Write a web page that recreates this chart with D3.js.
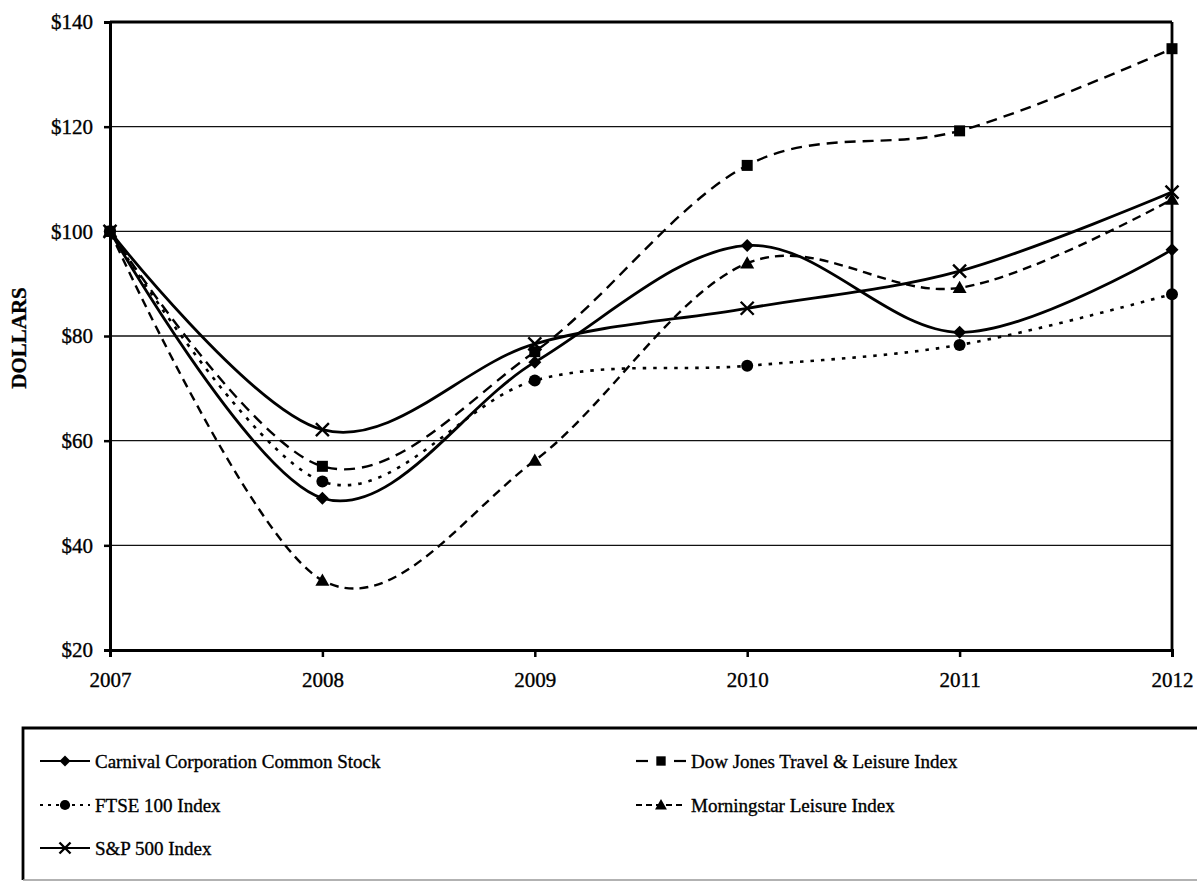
<!DOCTYPE html>
<html>
<head>
<meta charset="utf-8">
<script src="https://cdn.jsdelivr.net/npm/d3@7"></script>
<style>
  html, body { margin: 0; padding: 0; background: #fff; }
  svg { display: block; }
  text { font-family: "Liberation Serif", "Times New Roman", serif; fill: #000; stroke: #000; stroke-width: 0.35px; }
</style>
</head>
<body>
<svg id="chart" width="1197" height="881"></svg>
<script>
const years = [2007, 2008, 2009, 2010, 2011, 2012];
const yTicks = [20, 40, 60, 80, 100, 120, 140];
const carnival   = [100, 49.0, 75.0, 97.3, 80.7, 96.5];
const dowJones   = [100, 55.1, 77.0, 112.6, 119.2, 134.9];
const ftse       = [100, 52.2, 71.5, 74.3, 78.3, 88.0];
const morningstar= [100, 33.3, 56.2, 93.9, 89.2, 106.1];
const sp500      = [100, 62.1, 78.5, 85.3, 92.4, 107.5];
const seriesNames = [
  "Carnival Corporation Common Stock",
  "Dow Jones Travel & Leisure Index",
  "FTSE 100 Index",
  "Morningstar Leisure Index",
  "S&P 500 Index"
];

const series = [
  { name: seriesNames[0], values: carnival,    dash: null,    width: 2.8, marker: "diamond" },
  { name: seriesNames[1], values: dowJones,    dash: "11,7",  width: 2.4, marker: "square" },
  { name: seriesNames[2], values: ftse,        dash: "3.5,7", width: 2.6, marker: "circle" },
  { name: seriesNames[3], values: morningstar, dash: "9,6",   width: 2.4, marker: "triangle" },
  { name: seriesNames[4], values: sp500,       dash: null,    width: 2.8, marker: "cross" }
];

const svg = d3.select("#chart");
const plotLeft = 110, plotRight = 1172, plotTop = 22, plotBottom = 650;

const x = d3.scaleLinear().domain([2007, 2012]).range([plotLeft, plotRight]);
const y = d3.scaleLinear().domain([20, 140]).range([plotBottom, plotTop]);

// gridlines
svg.append("g")
  .selectAll("line")
  .data(yTicks.filter(t => t > 20 && t < 140))
  .join("line")
  .attr("x1", plotLeft).attr("x2", plotRight)
  .attr("y1", d => y(d)).attr("y2", d => y(d))
  .attr("stroke", "#111").attr("stroke-width", 1.4);

// top & right border
svg.append("line").attr("x1", plotLeft).attr("x2", plotRight).attr("y1", y(140)).attr("y2", y(140))
  .attr("stroke", "#000").attr("stroke-width", 2.8);
svg.append("line").attr("x1", plotRight).attr("x2", plotRight).attr("y1", y(140)).attr("y2", y(20))
  .attr("stroke", "#000").attr("stroke-width", 2.8);

// y axis
const yAxis = d3.axisLeft(y).tickValues(yTicks).tickSize(6).tickPadding(11).tickFormat(d => "$" + d);
const gy = svg.append("g").attr("transform", `translate(${plotLeft},0)`).call(yAxis);
gy.select(".domain").attr("stroke", "#000").attr("stroke-width", 3);
gy.selectAll(".tick line").attr("stroke", "#000").attr("stroke-width", 2.5);
gy.selectAll(".tick text").attr("font-size", 21).attr("font-family", "Liberation Serif").attr("fill", "#000");

// x axis
const xAxis = d3.axisBottom(x).tickValues(years).tickSize(7).tickPadding(15).tickFormat(d3.format("d"));
const gx = svg.append("g").attr("transform", `translate(0,${plotBottom})`).call(xAxis);
gx.select(".domain").attr("stroke", "#000").attr("stroke-width", 3);
gx.selectAll(".tick line").attr("stroke", "#000").attr("stroke-width", 2.5);
gx.selectAll(".tick text").attr("font-size", 21).attr("font-family", "Liberation Serif").attr("fill", "#000");

// y label
svg.append("text")
  .attr("transform", `translate(26,338) rotate(-90)`)
  .attr("text-anchor", "middle")
  .attr("font-size", 21).attr("font-weight", "bold")
  .text("DOLLARS");

// markers
function drawMarker(g, type, cx, cy, s) {
  s = s || 1;
  if (type === "diamond") {
    const r = 6.5 * s;
    g.append("path").attr("d", `M${cx},${cy - r}L${cx + r},${cy}L${cx},${cy + r}L${cx - r},${cy}Z`).attr("fill", "#000");
  } else if (type === "square") {
    const r = 5.5 * s;
    g.append("rect").attr("x", cx - r).attr("y", cy - r).attr("width", 2 * r).attr("height", 2 * r).attr("fill", "#000");
  } else if (type === "circle") {
    g.append("circle").attr("cx", cx).attr("cy", cy).attr("r", 6 * s).attr("fill", "#000");
  } else if (type === "triangle") {
    const r = 7 * s;
    g.append("path").attr("d", `M${cx},${cy - r}L${cx + r},${cy + r * 0.75}L${cx - r},${cy + r * 0.75}Z`).attr("fill", "#000");
  } else if (type === "cross") {
    const r = 6.5 * s;
    g.append("path").attr("d", `M${cx - r},${cy - r}L${cx + r},${cy + r}M${cx + r},${cy - r}L${cx - r},${cy + r}`)
      .attr("stroke", "#000").attr("stroke-width", 2.4).attr("fill", "none");
  }
}

const line = d3.line()
  .x((d, i) => x(years[i]))
  .y(d => y(d))
  .curve(d3.curveCardinal.tension(0));

const gLines = svg.append("g");
series.forEach(s => {
  gLines.append("path")
    .attr("d", line(s.values))
    .attr("fill", "none")
    .attr("stroke", "#000")
    .attr("stroke-width", s.width)
    .attr("stroke-dasharray", s.dash);
});
series.forEach(s => {
  const g = svg.append("g");
  s.values.forEach((v, i) => drawMarker(g, s.marker, x(years[i]), y(v)));
});

// legend box
svg.append("path")
  .attr("d", "M23,880 L23,728 L1200,728")
  .attr("fill", "none").attr("stroke", "#000").attr("stroke-width", 2.8);
svg.append("line").attr("x1", 23).attr("x2", 1200).attr("y1", 880).attr("y2", 880)
  .attr("stroke", "#999").attr("stroke-width", 1.5);

const legendPos = [
  { lx: 40, ly: 761 },
  { lx: 636, ly: 761 },
  { lx: 40, ly: 805 },
  { lx: 636, ly: 805 },
  { lx: 40, ly: 848 }
];
const legendDash = [null, "11,15", "3,5", "6,4", null];
series.forEach((s, i) => {
  const p = legendPos[i];
  const g = svg.append("g");
  const w = 50;
  if (i === 1) {
    g.append("line").attr("x1", p.lx).attr("x2", p.lx + 12).attr("y1", p.ly).attr("y2", p.ly).attr("stroke", "#000").attr("stroke-width", 2.2);
    g.append("line").attr("x1", p.lx + 38).attr("x2", p.lx + 50).attr("y1", p.ly).attr("y2", p.ly).attr("stroke", "#000").attr("stroke-width", 2.2);
  } else {
    g.append("line").attr("x1", p.lx).attr("x2", p.lx + w).attr("y1", p.ly).attr("y2", p.ly)
      .attr("stroke", "#000").attr("stroke-width", 2.2).attr("stroke-dasharray", legendDash[i]);
  }
  drawMarker(g, s.marker, p.lx + 25, p.ly, 0.85);
  g.append("text").attr("x", p.lx + 55).attr("y", p.ly).attr("dy", "0.35em")
    .attr("font-size", 19).text(s.name);
});
</script>
</body>
</html>
